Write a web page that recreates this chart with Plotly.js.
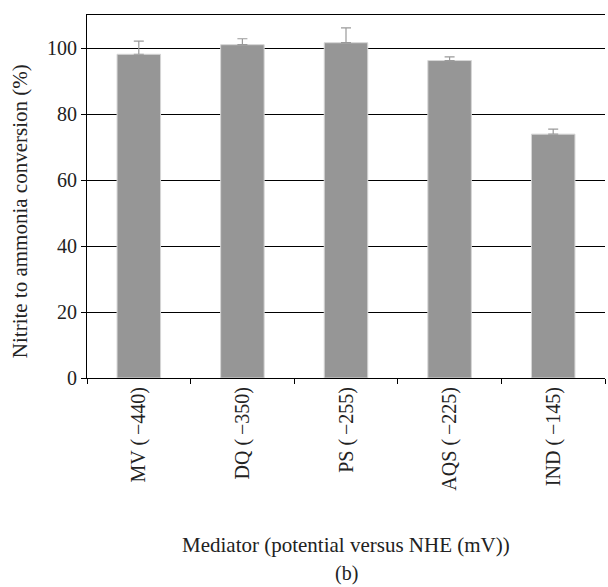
<!DOCTYPE html>
<html>
<head>
<meta charset="utf-8">
<script src="https://cdn.plot.ly/plotly-3.0.1.min.js"></script>
<style>html,body{margin:0;padding:0;background:#fff;}#chart{width:608px;height:587px;}</style>
</head>
<body>
<div id="chart"></div>
<script>
var categories = ["MV (\u2009\u2212440)", "DQ (\u2009\u2212350)", "PS (\u2009\u2212255)", "AQS (\u2009\u2212225)", "IND (\u2009\u2212145)"];
var conversion = [98.1, 101.0, 101.6, 96.2, 73.9];
var errorPlus = [4.0, 1.8, 4.5, 1.1, 1.5];
var yTickVals = [0, 20, 40, 60, 80, 100];

var fontFam = "Liberation Serif, Times New Roman, serif";
var tickFs = 20;
var titleFs = 21;
var txt = "#222";

var trace = {
  type: "bar",
  x: categories,
  y: conversion,
  marker: {color: "#969696", line: {color: "#d6d6d6", width: 1}},
  error_y: {type: "data", array: errorPlus, symmetric: false, arrayminus: [0,0,0,0,0], color: "#9a9a9a", thickness: 1.2, width: 5},
  hoverinfo: "none"
};

var layout = {
  width: 608, height: 587,
  margin: {l: 87, r: 3, t: 15, b: 209},
  paper_bgcolor: "#fff", plot_bgcolor: "#fff",
  showlegend: false,
  bargap: 0.58,
  font: {family: fontFam, size: tickFs, color: txt},
  xaxis: {
    type: "category",
    showline: true, linecolor: "#000", linewidth: 1, mirror: true,
    ticks: "outside", tickson: "boundaries", ticklen: 5, tickcolor: "#000",
    tickangle: -90, showgrid: false, zeroline: false,
    tickfont: {family: fontFam, size: tickFs, color: txt}
  },
  yaxis: {
    range: [0, 110], tickvals: yTickVals, ticktext: yTickVals.map(String),
    showline: true, linecolor: "#000", linewidth: 1,
    ticks: "outside", ticklen: 5, tickcolor: "#000",
    showgrid: true, gridcolor: "#000", gridwidth: 1, zeroline: false,
    tickfont: {family: fontFam, size: tickFs, color: txt}
  },
  annotations: [
    {text: "Mediator (potential versus NHE (mV))", xref: "paper", yref: "paper", x: 0.5, y: -0.46, xanchor: "center", yanchor: "middle", showarrow: false, font: {family: fontFam, size: titleFs, color: txt}},
    {text: "(b)", xref: "paper", yref: "paper", x: 0.5, y: -0.538, xanchor: "center", yanchor: "middle", showarrow: false, font: {family: fontFam, size: 20, color: txt}},
    {text: "Nitrite to ammonia conversion (%)", xref: "paper", yref: "paper", x: -0.129, y: 0.46, xanchor: "center", yanchor: "middle", textangle: -90, showarrow: false, font: {family: fontFam, size: titleFs, color: txt}}
  ]
};

Plotly.newPlot("chart", [trace], layout, {displayModeBar: false, staticPlot: true});
</script>
</body>
</html>
